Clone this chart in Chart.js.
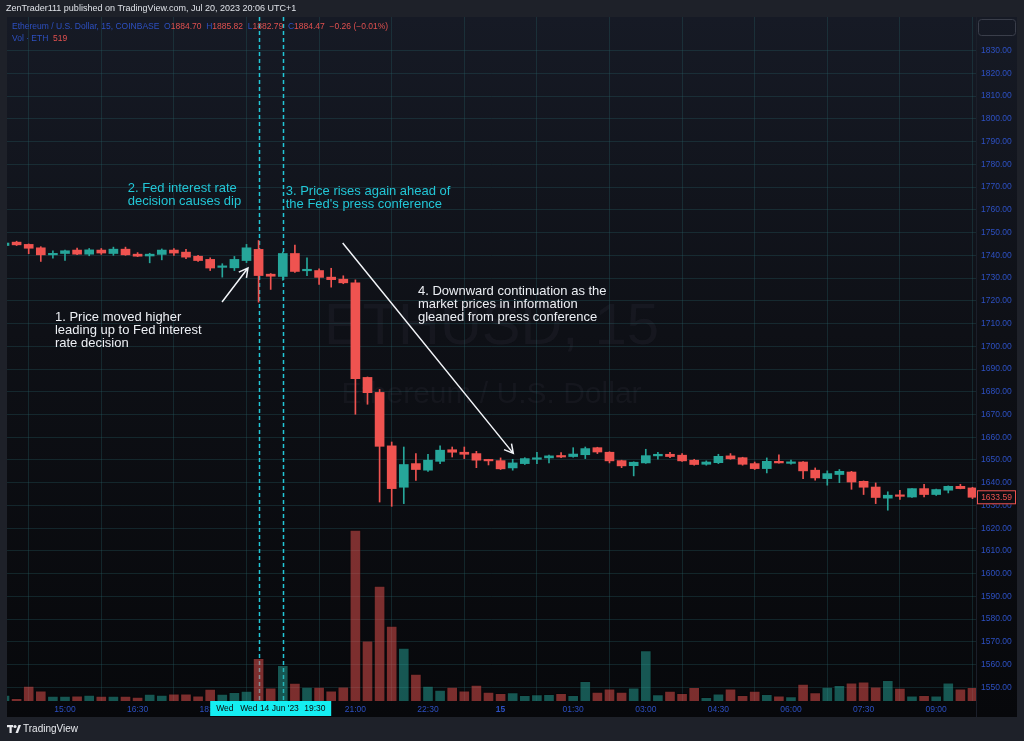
<!DOCTYPE html>
<html>
<head>
<meta charset="utf-8">
<title>ETHUSD 15 - Fed decision</title>
<script src="https://cdn.jsdelivr.net/npm/chart.js@4.4.0/dist/chart.umd.min.js"></script>
<style>
  html, body { margin: 0; padding: 0; background: #1e2129; overflow: hidden; }
  #wrap { position: relative; width: 1024px; height: 741px; }
</style>
</head>
<body>
<div id="wrap"><canvas id="chart" width="1024" height="741"></canvas></div>
<script>
// 15 minute candles, Wed 14 Jun 13:45 -> Thu 15 Jun 09:45 (UTC+1)
const times = [
  "13:45","14:00","14:15","14:30","14:45","15:00","15:15","15:30","15:45","16:00",
  "16:15","16:30","16:45","17:00","17:15","17:30","17:45","18:00","18:15","18:30",
  "18:45","19:00","19:15","19:30","19:45","20:00","20:15","20:30","20:45","21:00",
  "21:15","21:30","21:45","22:00","22:15","22:30","22:45","23:00","23:15","23:30",
  "23:45","00:00","00:15","00:30","00:45","01:00","01:15","01:30","01:45","02:00",
  "02:15","02:30","02:45","03:00","03:15","03:30","03:45","04:00","04:15","04:30",
  "04:45","05:00","05:15","05:30","05:45","06:00","06:15","06:30","06:45","07:00",
  "07:15","07:30","07:45","08:00","08:15","08:30","08:45","09:00","09:15","09:30",
  "09:45"
];

const opens = [
  1744.3, 1745.8, 1744.8, 1743.3, 1740.2, 1740.8, 1742.3, 1740.5, 1742.3, 1740.8,
  1742.7, 1740.5, 1739.7, 1740.4, 1742.3, 1741.4, 1739.6, 1738.2, 1734.7, 1734.5,
  1737.7, 1742.6, 1731.7, 1730.7, 1740.8, 1733.2, 1733.3, 1730.4, 1729.5, 1727.9,
  1686.3, 1679.7, 1656.2, 1638.0, 1648.4, 1645.5, 1649.4, 1654.5, 1653.4, 1652.8,
  1650.2, 1649.7, 1646.5, 1648.4, 1650.3, 1650.9, 1651.9, 1651.5, 1652.3, 1655.4,
  1653.4, 1649.7, 1647.5, 1648.7, 1651.8, 1652.5, 1652.1, 1649.9, 1648.1, 1648.8,
  1651.8, 1651.0, 1648.4, 1646.2, 1649.4, 1648.5, 1649.1, 1645.5, 1641.8, 1643.6,
  1644.7, 1640.6, 1638.1, 1633.2, 1634.6, 1633.7, 1637.4, 1634.8, 1636.7, 1638.4,
  1637.7
];
const highs = [
  1745.8, 1746.2, 1745.0, 1743.8, 1742.0, 1742.3, 1743.2, 1743.0, 1743.0, 1743.6,
  1743.6, 1741.2, 1740.9, 1742.8, 1743.0, 1742.6, 1740.0, 1738.9, 1736.3, 1739.5,
  1744.8, 1746.5, 1732.0, 1741.5, 1744.5, 1738.9, 1734.0, 1734.3, 1731.0, 1729.2,
  1686.5, 1681.0, 1657.9, 1655.7, 1652.8, 1652.5, 1656.2, 1655.7, 1655.7, 1653.8,
  1650.3, 1650.9, 1650.3, 1651.0, 1653.4, 1652.2, 1653.2, 1655.4, 1655.7, 1655.6,
  1653.6, 1649.9, 1649.2, 1654.7, 1653.4, 1653.4, 1652.8, 1650.3, 1649.6, 1652.5,
  1652.8, 1651.2, 1649.1, 1650.9, 1652.3, 1649.9, 1649.3, 1646.5, 1645.2, 1645.8,
  1645.0, 1640.8, 1639.9, 1636.0, 1636.7, 1637.4, 1639.3, 1637.2, 1638.6, 1639.3,
  1638.0
];
const lows = [
  1743.8, 1744.3, 1740.7, 1737.3, 1738.7, 1737.8, 1740.3, 1739.8, 1740.4, 1740.0,
  1740.0, 1739.4, 1736.7, 1738.0, 1740.0, 1738.5, 1737.3, 1733.3, 1730.4, 1733.3,
  1736.8, 1719.4, 1725.0, 1729.0, 1732.5, 1731.1, 1727.2, 1726.0, 1727.5, 1670.1,
  1674.5, 1631.5, 1629.6, 1630.8, 1641.0, 1645.0, 1648.4, 1651.3, 1650.6, 1646.6,
  1647.8, 1645.8, 1645.5, 1648.0, 1648.4, 1648.7, 1651.0, 1651.2, 1650.6, 1652.8,
  1648.7, 1646.6, 1643.0, 1648.5, 1650.4, 1651.0, 1649.4, 1647.7, 1647.7, 1648.4,
  1650.3, 1647.7, 1645.8, 1644.3, 1648.6, 1648.1, 1641.8, 1641.1, 1638.9, 1640.0,
  1637.1, 1634.8, 1630.8, 1627.9, 1632.6, 1633.5, 1633.7, 1634.4, 1635.5, 1637.3,
  1633.0
];
const closes = [
  1745.4, 1744.6, 1743.1, 1740.2, 1740.8, 1742.0, 1740.5, 1742.4, 1741.0, 1742.7,
  1740.2, 1739.6, 1740.5, 1742.3, 1741.0, 1739.2, 1737.7, 1734.4, 1735.2, 1738.2,
  1743.3, 1731.1, 1730.8, 1740.8, 1732.9, 1733.8, 1730.3, 1729.3, 1727.9, 1685.8,
  1679.6, 1656.0, 1637.4, 1648.0, 1645.8, 1649.9, 1654.3, 1653.4, 1652.5, 1649.9,
  1649.6, 1646.1, 1648.7, 1650.6, 1650.9, 1651.8, 1651.3, 1652.6, 1655.0, 1653.5,
  1649.6, 1647.4, 1649.0, 1651.9, 1652.5, 1651.5, 1649.6, 1648.0, 1649.1, 1651.6,
  1650.5, 1648.1, 1646.2, 1649.4, 1648.7, 1649.1, 1645.2, 1642.1, 1644.0, 1645.0,
  1640.3, 1638.0, 1633.5, 1634.5, 1634.0, 1637.4, 1634.8, 1637.0, 1638.4, 1637.4,
  1633.59
];
// volume in ETH
const volumes = [
  228, 103, 570, 391, 190, 190, 201, 228, 190, 190,
  190, 152, 266, 228, 277, 277, 201, 456, 266, 331,
  380, 1623, 505, 1357, 684, 532, 532, 391, 543, 6498,
  2291, 4370, 2850, 2014, 1026, 570, 418, 532, 391, 608,
  342, 296, 323, 220, 247, 258, 296, 220, 752, 338,
  467, 338, 505, 1919, 247, 376, 296, 521, 144, 274,
  467, 220, 376, 258, 194, 167, 646, 323, 532, 597,
  688, 726, 543, 790, 494, 194, 220, 194, 688, 467,
  519
];

const priceTicks = [
  1550, 1560, 1570, 1580, 1590, 1600, 1610, 1620, 1630, 1640,
  1650, 1660, 1670, 1680, 1690, 1700, 1710, 1720, 1730, 1740,
  1750, 1760, 1770, 1780, 1790, 1800, 1810, 1820, 1830
];
const tickTimes = ["15:00","16:30","18:00","19:30","21:00","22:30","00:00","01:30","03:00","04:30","06:00","07:30","09:00"];
const tickText  = ["15:00","16:30","18:00","19:30","21:00","22:30","15","01:30","03:00","04:30","06:00","07:30","09:00"];
const fedDecision = "19:00";
const pressConference = "19:30";
const lastPrice = 1633.59;

const UP = "#26a69a", DOWN = "#ef5350";
const UP_VOL = "rgba(38,166,154,0.5)", DOWN_VOL = "rgba(239,83,80,0.5)";
const AXIS_TXT = "#2d50c2";
const GRID = "rgba(38,92,96,0.34)";
const CYAN = "#22c6d6";
const FONT = "'Liberation Sans', Arial, sans-serif";

const isUp = i => closes[i] >= opens[i];

// notes placed in data space: [candle index, price]
const notes = [
  { lines: ["1. Price moved higher", "leading up to Fed interest", "rate decision"], at: [4.17, 1712.6], color: "#eceff4" },
  { lines: ["2. Fed interest rate", "decision causes dip"], at: [10.18, 1769.5], color: CYAN },
  { lines: ["3. Price rises again ahead of", "the Fed's press conference"], at: [23.24, 1767.9], color: CYAN },
  { lines: ["4. Downward continuation as the", "market prices in information", "gleaned from press conference"], at: [34.17, 1723.9], color: "#eceff4" }
];
const arrows = [
  { from: [17.98, 1719.5], to: [20.12, 1734.4] },
  { from: [27.95, 1745.4], to: [42.05, 1652.9] }
];

function drawArrow(ctx, x1, y1, x2, y2) {
  const a = Math.atan2(y2 - y1, x2 - x1), h = 10;
  ctx.beginPath();
  ctx.moveTo(x1, y1); ctx.lineTo(x2, y2);
  ctx.moveTo(x2 - h * Math.cos(a - 0.5), y2 - h * Math.sin(a - 0.5));
  ctx.lineTo(x2, y2);
  ctx.lineTo(x2 - h * Math.cos(a + 0.5), y2 - h * Math.sin(a + 0.5));
  ctx.stroke();
}

const tvDecor = {
  id: "tvDecor",
  beforeDraw(chart) {
    const ctx = chart.ctx;
    ctx.save();
    ctx.fillStyle = "#1e2129";
    ctx.fillRect(0, 0, chart.width, chart.height);
    const g = ctx.createLinearGradient(0, 17, 0, 717);
    g.addColorStop(0, "#161a25");
    g.addColorStop(0.45, "#0e1016");
    g.addColorStop(1, "#07080b");
    ctx.fillStyle = g;
    ctx.fillRect(7, 17, 1010, 700);
    ctx.restore();
  },
  beforeDatasetsDraw(chart) {
    const ctx = chart.ctx, a = chart.chartArea;
    const x = chart.scales.x;
    ctx.save();
    // watermark
    ctx.fillStyle = "rgba(130,134,150,0.07)";
    ctx.textAlign = "center";
    ctx.textBaseline = "middle";
    const cx = (a.left + a.right) / 2;
    ctx.font = "58px " + FONT;
    ctx.fillText("ETHUSD, 15", cx, 328);
    ctx.font = "30px " + FONT;
    ctx.fillText("Ethereum / U.S. Dollar", cx, 395);
    // vertical dashed markers
    ctx.strokeStyle = CYAN;
    ctx.lineWidth = 1.5;
    ctx.setLineDash([4, 3]);
    [fedDecision, pressConference].forEach(t => {
      const px = Math.round(x.getPixelForValue(times.indexOf(t))) + 0.5;
      ctx.beginPath();
      ctx.moveTo(px, a.top);
      ctx.lineTo(px, a.bottom);
      ctx.stroke();
    });
    ctx.restore();
  },
  afterDatasetsDraw(chart) {
    const ctx = chart.ctx, x = chart.scales.x, y = chart.scales.y;
    ctx.save();
    ctx.font = "13px " + FONT;
    ctx.textBaseline = "middle";
    ctx.textAlign = "left";
    notes.forEach(n => {
      ctx.fillStyle = n.color;
      const px = x.getPixelForValue(n.at[0]), py = y.getPixelForValue(n.at[1]);
      n.lines.forEach((l, k) => ctx.fillText(l, px, py + k * 13));
    });
    ctx.strokeStyle = "#f2f4f8";
    ctx.lineWidth = 1.5;
    arrows.forEach(ar => drawArrow(ctx,
      x.getPixelForValue(ar.from[0]), y.getPixelForValue(ar.from[1]),
      x.getPixelForValue(ar.to[0]), y.getPixelForValue(ar.to[1])));
    ctx.restore();
  },
  afterDraw(chart) {
    const ctx = chart.ctx, a = chart.chartArea, x = chart.scales.x, y = chart.scales.y;
    ctx.save();
    // axis separator
    ctx.strokeStyle = "#1b1f2a";
    ctx.lineWidth = 1;
    ctx.beginPath(); ctx.moveTo(a.right + 0.5, 17); ctx.lineTo(a.right + 0.5, 717); ctx.stroke();

    // header
    ctx.textBaseline = "middle";
    ctx.textAlign = "left";
    ctx.font = "9px " + FONT;
    ctx.fillStyle = "#dfe2e8";
    ctx.fillText("ZenTrader111 published on TradingView.com, Jul 20, 2023 20:06 UTC+1", 6, 9);
    const seg = (parts, sx, sy) => {
      let cx = sx;
      parts.forEach(([t, c]) => { ctx.fillStyle = c; ctx.fillText(t, cx, sy); cx += ctx.measureText(t).width; });
    };
    ctx.font = "8.5px " + FONT;
    seg([["Ethereum / U.S. Dollar, 15, COINBASE  ", AXIS_TXT], ["O", AXIS_TXT], ["1884.70", "#e0504f"],
         ["  H", AXIS_TXT], ["1885.82", "#e0504f"], ["  L", AXIS_TXT], ["1882.79", "#e0504f"],
         ["  C", AXIS_TXT], ["1884.47", "#e0504f"], ["  \u22120.26 (\u22120.01%)", "#e0504f"]], 12, 27);
    seg([["Vol \u00b7 ETH  ", AXIS_TXT], ["519", "#e0504f"]], 12, 39);

    // top-right empty box
    ctx.strokeStyle = "#3a3e4a";
    ctx.beginPath(); ctx.roundRect(978.5, 19.5, 37, 16, 3); ctx.stroke();

    // last price label
    const ly = y.getPixelForValue(lastPrice);
    ctx.fillStyle = "#0c0d12";
    ctx.fillRect(977, ly - 7, 39, 14);
    ctx.strokeStyle = DOWN;
    ctx.strokeRect(977.5, ly - 6.5, 38, 13);
    ctx.fillStyle = DOWN;
    ctx.textAlign = "center";
    ctx.font = "8.5px " + FONT;
    ctx.fillText(lastPrice.toFixed(2), 996.5, ly + 0.5);

    // crosshair time label
    const l = x.getPixelForValue(17), r = x.getPixelForValue(27);
    ctx.fillStyle = "#14eef2";
    ctx.fillRect(l, a.bottom, r - l, 15);
    ctx.fillStyle = "#0a0a0a";
    ctx.textAlign = "left";
    ctx.fillText("Wed", l + 6, a.bottom + 8);
    ctx.fillText("Wed 14 Jun '23", l + 30, a.bottom + 8);
    ctx.fillText(pressConference, l + 94, a.bottom + 8);

    // footer logo
    ctx.fillStyle = "#e8eaee";
    ctx.fillRect(7, 725, 6, 2.2);
    ctx.fillRect(9.5, 725, 2.2, 8);
    ctx.beginPath(); ctx.arc(15, 726.5, 1.6, 0, Math.PI * 2); ctx.fill();
    ctx.beginPath(); ctx.moveTo(15.5, 733); ctx.lineTo(18.5, 725); ctx.lineTo(21, 725); ctx.lineTo(18, 733); ctx.fill();
    ctx.font = "10px " + FONT;
    ctx.textBaseline = "middle";
    ctx.fillText("TradingView", 23, 729.5);
    ctx.restore();
  }
};

const idx = times.map((_, i) => i);

new Chart(document.getElementById("chart").getContext("2d"), {
  type: "bar",
  data: {
    datasets: [
      {
        label: "Bodies",
        data: idx.map(i => ({ x: i, y: [opens[i], closes[i]] })),
        backgroundColor: idx.map(i => isUp(i) ? UP : DOWN),
        barThickness: 9,
        minBarLength: 1.5,
        grouped: false,
        order: 1
      },
      {
        label: "Wicks",
        data: idx.map(i => ({ x: i, y: [lows[i], highs[i]] })),
        backgroundColor: idx.map(i => isUp(i) ? UP : DOWN),
        barThickness: 1,
        grouped: false,
        order: 2
      },
      {
        label: "Vol",
        yAxisID: "vol",
        data: idx.map(i => ({ x: i, y: volumes[i] })),
        backgroundColor: idx.map(i => isUp(i) ? UP_VOL : DOWN_VOL),
        borderColor: "rgba(0,0,0,0.25)",
        borderWidth: 1,
        borderSkipped: "bottom",
        barThickness: 11,
        grouped: false,
        order: 3
      }
    ]
  },
  options: {
    responsive: false,
    animation: false,
    layout: { padding: { left: 7, top: 17, right: 7, bottom: 24 } },
    plugins: { legend: { display: false }, tooltip: { enabled: false } },
    scales: {
      x: {
        type: "linear",
        min: 0.207,
        max: 80.29,
        offset: false,
        border: { display: false },
        grid: { color: GRID, drawTicks: false },
        afterBuildTicks: s => { s.ticks = tickTimes.map(t => ({ value: times.indexOf(t) })); },
        afterFit: s => { s.height = 16; },
        ticks: {
          autoSkip: false,
          maxRotation: 0,
          padding: 4,
          color: AXIS_TXT,
          font: c => ({ family: FONT, size: 8.5, weight: (c.tick && times[c.tick.value] === "00:00") ? "bold" : "normal" }),
          callback: v => tickText[tickTimes.indexOf(times[v])]
        }
      },
      y: {
        position: "right",
        min: 1544.0,
        max: 1844.8,
        border: { display: false },
        grid: { color: GRID, drawTicks: false },
        afterBuildTicks: s => { s.ticks = priceTicks.map(v => ({ value: v })); },
        afterFit: s => { s.width = 41; },
        ticks: {
          padding: 5,
          color: AXIS_TXT,
          font: { family: FONT, size: 8.5 },
          callback: v => Number(v).toFixed(2)
        }
      },
      vol: {
        display: false,
        min: 0,
        max: 26000
      }
    }
  },
  plugins: [tvDecor]
});
</script>
</body>
</html>
